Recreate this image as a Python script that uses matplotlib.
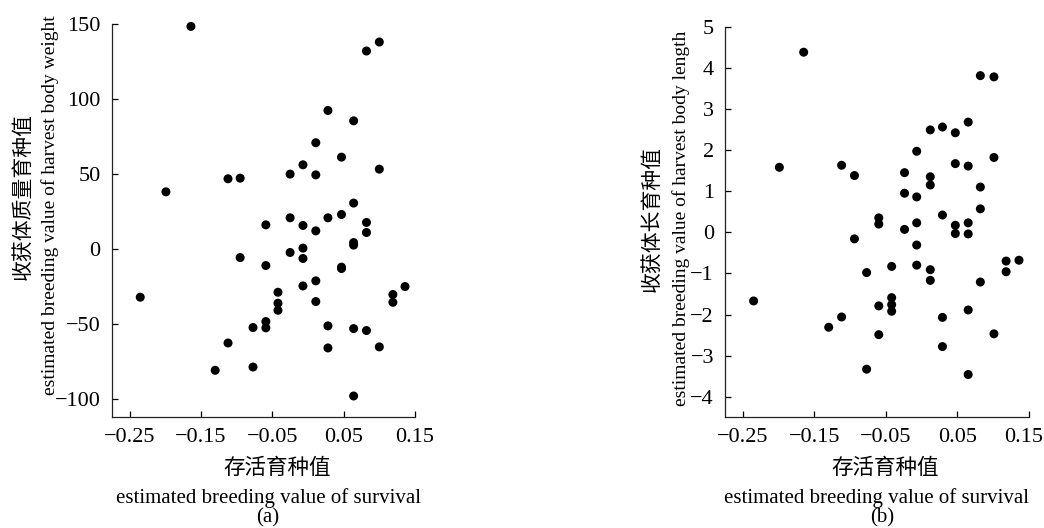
import numpy as np
import matplotlib.pyplot as plt
from matplotlib.transforms import ScaledTranslation

plt.rcParams['font.family'] = ['Liberation Serif', 'Noto Sans CJK SC', 'DejaVu Sans']
plt.rcParams['axes.unicode_minus'] = True

# panel (a): survival EBV vs harvest body weight EBV
surv_a = [-0.164, 0.100, 0.082, 0.028, 0.064, 0.011, 0.047, -0.007, -0.025, 0.011,
          -0.112, -0.095, 0.100, -0.199, 0.064, -0.025, 0.028, 0.047, -0.059, -0.007,
          0.082, 0.082, 0.011, 0.064, 0.064, -0.007, -0.025, -0.007, -0.095, -0.059,
          0.047, 0.047, 0.011, -0.007, -0.235, -0.042, -0.042, -0.042, 0.011, 0.119,
          0.119, 0.136, -0.059, -0.059, -0.077, 0.028, 0.064, 0.082, -0.112, 0.100,
          0.028, -0.130, -0.077, 0.064]
weight_a = [148.4, 138.0, 132.0, 92.4, 85.5, 70.9, 61.3, 56.2, 50.0, 49.5,
            46.9, 47.3, 53.3, 38.2, 30.7, 20.9, 20.9, 23.1, 16.2, 15.8,
            17.8, 11.1, 12.2, 4.4, 2.7, 0.7, -2.2, -6.2, -5.6, -10.9,
            -12.9, -12.0, -21.1, -24.5, -32.0, -28.7, -36.0, -40.7, -34.9, -30.2,
            -35.4, -24.9, -48.2, -52.4, -52.2, -51.1, -52.9, -54.2, -62.5, -65.1,
            -65.8, -80.7, -78.5, -97.8]

# panel (b): survival EBV vs harvest body length EBV
surv_b = [-0.165, 0.082, 0.101, 0.065, 0.029, 0.012, 0.047, -0.007, 0.101, -0.199,
          -0.112, -0.094, 0.047, 0.065, -0.024, 0.012, 0.012, -0.024, -0.007, 0.082,
          0.082, 0.029, -0.060, -0.060, -0.024, -0.007, 0.047, 0.047, 0.065, 0.065,
          -0.094, -0.007, -0.077, -0.042, -0.007, 0.012, 0.012, 0.082, 0.118, 0.118,
          0.136, -0.235, -0.042, -0.042, -0.042, -0.060, 0.065, -0.112, 0.029, -0.130,
          -0.060, 0.101, 0.029, -0.077, 0.065]
length_b = [4.38, 3.81, 3.78, 2.68, 2.56, 2.49, 2.42, 1.97, 1.82, 1.58,
            1.63, 1.38, 1.67, 1.61, 1.45, 1.35, 1.15, 0.95, 0.86, 1.10,
            0.57, 0.42, 0.35, 0.20, 0.07, 0.23, 0.17, -0.03, 0.23, -0.04,
            -0.16, -0.31, -0.98, -0.83, -0.80, -0.91, -1.17, -1.21, -0.70, -0.96,
            -0.68, -1.67, -1.59, -1.76, -1.92, -1.79, -1.89, -2.06, -2.07, -2.31,
            -2.49, -2.47, -2.78, -3.33, -3.46]

xticks = [-0.25, -0.15, -0.05, 0.05, 0.15]
xticklabels = ['−0.25', '−0.15', '−0.05', '0.05', '0.15']
yticks_a = [-100, -50, 0, 50, 100, 150]
yticks_b = [-4, -3, -2, -1, 0, 1, 2, 3, 4, 5]

W, H = 1044, 528
fig = plt.figure(figsize=(W / 100, H / 100), dpi=100)


def px_axes(x0, x1, y0, y1):
    # pixel box -> figure fraction
    return [x0 / W, 1 - y1 / H, (x1 - x0) / W, (y1 - y0) / H]


def style(ax):
    for s in ['top', 'right']:
        ax.spines[s].set_visible(False)
    for s in ['left', 'bottom']:
        ax.spines[s].set_linewidth(0.9)
        ax.spines[s].set_color('#222222')
    ax.tick_params(direction='in', length=4, width=0.9, labelsize=16, pad=8)


ax1 = fig.add_axes(px_axes(111.7, 415, 24, 417.3))
ax1.scatter(surv_a, weight_a, s=42, color='black', edgecolors='none', clip_on=False)
ax1.set_xlim(-0.275, 0.15)
ax1.set_ylim(-112, 150)
ax1.set_xticks(xticks)
ax1.set_xticklabels(xticklabels)
ax1.set_yticks(yticks_a)
style(ax1)

ax2 = fig.add_axes(px_axes(725, 1029, 26.7, 417.3))
ax2.scatter(surv_b, length_b, s=42, color='black', edgecolors='none', clip_on=False)
ax2.set_xlim(-0.275, 0.15)
ax2.set_ylim(-4.5, 5)
ax2.set_xticks(xticks)
ax2.set_xticklabels(xticklabels)
ax2.set_yticks(yticks_b)
style(ax2)

# keep the last tick label of (b) inside the figure
last = ax2.get_xticklabels()[-1]
last.set_transform(last.get_transform() + ScaledTranslation(-5 / 100, 0, fig.dpi_scale_trans))


def ftext(x, y, s, size=15, **kw):
    fig.text(x / W, 1 - y / H, s, ha='center', va='center', fontsize=size, **kw)


# y labels
ftext(24, 196, '收获体质量育种值', rotation=90)
ftext(50, 205, 'estimated breeding value of harvest body weight', size=14, rotation=90)
ftext(653, 219, '收获体长育种值', rotation=90)
ftext(681, 218, 'estimated breeding value of harvest body length', size=14, rotation=90)

# x labels
ftext(277, 469, '存活育种值', size=15.5)
ftext(268, 498, 'estimated breeding value of survival')
ftext(268, 518, '(a)')
ftext(885, 469, '存活育种值', size=15.5)
ftext(877, 498, 'estimated breeding value of survival')
ftext(882, 518, '(b)')

fig.savefig('out.png', dpi=100)
